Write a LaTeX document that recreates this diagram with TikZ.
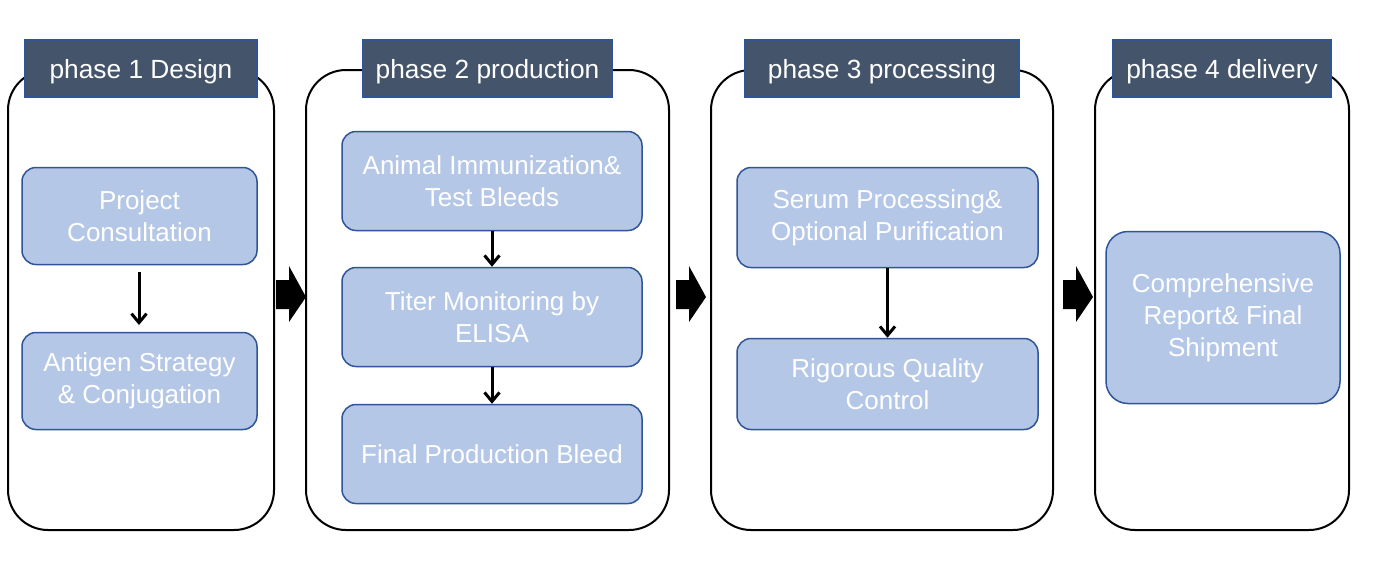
\documentclass[tikz,border=0pt]{standalone}
\usepackage{fontspec}
\setmainfont{Liberation Sans}
\usetikzlibrary{arrows.meta}
\definecolor{hdrfill}{HTML}{44546A}
\definecolor{edgeblue}{HTML}{2F5597}
\definecolor{boxfill}{HTML}{B4C7E7}
\tikzset{
  panel/.style={draw=black, line width=2pt, rounded corners=40pt, fill=white},
  header/.style={draw=edgeblue, line width=1.5pt, fill=hdrfill, text=white, inner sep=0pt,
     text height=19pt, text depth=0pt, font=\fontsize{26.3}{31}\selectfont},
  stepbox/.style={draw=edgeblue, line width=1.5pt, fill=boxfill, text=white, rounded corners=14pt,
     inner sep=0pt, align=center, font=\fontsize{26}{32}\selectfont},
  flow/.style={draw=black, line width=3pt, -{Straight Barb[length=9pt,width=15pt,line width=3pt]}},
}
\begin{document}
\begin{tikzpicture}[x=1pt,y=-1pt]
\useasboundingbox (0,0) rectangle (1374,582);
% panels
\draw[panel] (8,70) rectangle (274,530);
\draw[panel] (306,70) rectangle (669,530);
\draw[panel] (711,70) rectangle (1053,530);
\draw[panel] (1095,70) rectangle (1349,530);
% headers
\node[header, minimum width=232pt, minimum height=57pt] (h1) at (141,68.5) {phase 1 Design};
\node[header, minimum width=249pt, minimum height=57pt] (h2) at (487.5,68.5) {phase 2 production};
\node[header, minimum width=274pt, minimum height=57pt] (h3) at (882,68.5) {phase 3 processing};
\node[header, minimum width=218pt, minimum height=57pt] (h4) at (1222,68.5) {phase 4 delivery};
% phase 1
\node[stepbox, minimum width=235pt, minimum height=97pt] (a1) at (139.5,216) {Project\\Consultation};
\node[stepbox, minimum width=235pt, minimum height=97pt] (a2) at (139.5,381) {Antigen Strategy\\\& Conjugation};
% phase 2
\node[stepbox, minimum width=300pt, minimum height=99pt] (b1) at (492,181) {Animal Immunization\&\\Test Bleeds};
\node[stepbox, minimum width=300pt, minimum height=99pt] (b2) at (492,317) {Titer Monitoring by\\ELISA};
\node[stepbox, minimum width=300pt, minimum height=99pt] (b3) at (492,454) {Final Production Bleed};
% phase 3
\node[stepbox, minimum width=301pt, minimum height=100pt] (c1) at (887.5,217.5) {Serum Processing\&\\Optional Purification};
\node[stepbox, minimum width=301pt, minimum height=91pt] (c2) at (887.5,384) {Rigorous Quality\\Control};
% phase 4
\node[stepbox, minimum width=234pt, minimum height=172pt, rounded corners=22pt] (d1) at (1223,317.5) {Comprehensive\\Report\& Final\\Shipment};
% vertical arrows
\coordinate (a1s) at (139,272);
\coordinate (a2n) at (139,325);
\draw[flow] (a1s) -- (a2n);
\draw[flow] (b1.south) -- (b2.north);
\draw[flow] (b2.south) -- (b3.north);
\draw[flow] (c1.south) -- (c2.north);
% block arrows
\foreach \x in {276,676,1063}{
  \fill[black] (\x,280) -- (\x+13,280) -- (\x+13,266) -- (\x+30,297) -- (\x+13,322) -- (\x+13,309) -- (\x,309) -- cycle;
}
\end{tikzpicture}
\end{document}
